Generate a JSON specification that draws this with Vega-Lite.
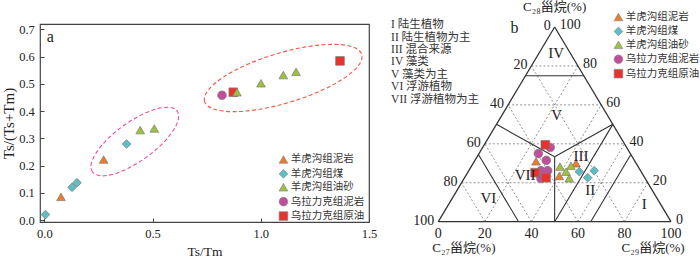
{
  "$schema": "https://vega.github.io/schema/vega-lite/v6.json",
  "padding": 0,
  "background": "#ffffff",
  "spacing": 17,
  "bounds": "flush",
  "config": {
    "view": {"stroke": null},
    "font": "Liberation Serif",
    "axis": {"labelFont": "Liberation Serif", "titleFont": "Liberation Serif", "titleFontWeight": "normal", "labelColor": "#222222", "titleColor": "#222222", "tickColor": "#444444"},
    "legend": {"labelFont": "Noto Sans CJK SC", "labelFontSize": 10.5, "labelColor": "#333333", "symbolSize": 75, "symbolStrokeColor": "#888888", "symbolStrokeWidth": 0.7, "rowPadding": 2.4, "labelOffset": 2, "padding": 0, "titlePadding": 0}
  },
  "datasets": {
    "ratio": [
      {"group": "乌拉力克组泥岩", "tstm": 0.821, "ratio": 0.458},
      {"group": "乌拉力克组原油", "tstm": 0.873, "ratio": 0.469},
      {"group": "乌拉力克组原油", "tstm": 1.366, "ratio": 0.584},
      {"group": "羊虎沟组泥岩", "tstm": 0.077, "ratio": 0.085},
      {"group": "羊虎沟组泥岩", "tstm": 0.274, "ratio": 0.222},
      {"group": "羊虎沟组煤", "tstm": 0.005, "ratio": 0.02},
      {"group": "羊虎沟组煤", "tstm": 0.128, "ratio": 0.12},
      {"group": "羊虎沟组煤", "tstm": 0.151, "ratio": 0.137},
      {"group": "羊虎沟组煤", "tstm": 0.38, "ratio": 0.279},
      {"group": "羊虎沟组油砂", "tstm": 0.443, "ratio": 0.33},
      {"group": "羊虎沟组油砂", "tstm": 0.508, "ratio": 0.336},
      {"group": "羊虎沟组油砂", "tstm": 0.89, "ratio": 0.469},
      {"group": "羊虎沟组油砂", "tstm": 1.001, "ratio": 0.502},
      {"group": "羊虎沟组油砂", "tstm": 1.104, "ratio": 0.532},
      {"group": "羊虎沟组油砂", "tstm": 1.163, "ratio": 0.544}
    ],
    "ellipses": [
      {"cluster": "low", "tstm": 0.418, "ratio": 0.288},
      {"cluster": "high", "tstm": 1.1036, "ratio": 0.5213}
    ],
    "steranes": [
      {"group": "乌拉力克组泥岩", "c27": 32.85, "c28": 38.1, "c29": 29.05, "x": 48.1},
      {"group": "乌拉力克组泥岩", "c27": 39.5, "c28": 35.0, "c29": 25.5, "x": 43.0},
      {"group": "乌拉力克组泥岩", "c27": 37.85, "c28": 31.5, "c29": 30.65, "x": 46.4},
      {"group": "乌拉力克组泥岩", "c27": 42.8, "c28": 26.2, "c29": 31.0, "x": 44.1},
      {"group": "乌拉力克组泥岩", "c27": 39.9, "c28": 26.2, "c29": 33.9, "x": 47.0},
      {"group": "乌拉力克组泥岩", "c27": 44.8, "c28": 22.2, "c29": 33.0, "x": 44.1},
      {"group": "乌拉力克组原油", "c27": 34.25, "c28": 39.5, "c29": 26.25, "x": 46.0},
      {"group": "乌拉力克组原油", "c27": 45.8, "c28": 25.2, "c29": 29.0, "x": 41.6},
      {"group": "乌拉力克组原油", "c27": 42.4, "c28": 22.6, "c29": 35.0, "x": 46.3},
      {"group": "羊虎沟组泥岩", "c27": 42.5, "c28": 31.0, "c29": 26.5, "x": 42.0},
      {"group": "羊虎沟组泥岩", "c27": 25.8, "c28": 30.0, "c29": 44.2, "x": 59.2},
      {"group": "羊虎沟组泥岩", "c27": 36.25, "c28": 23.5, "c29": 40.25, "x": 52.0},
      {"group": "羊虎沟组油砂", "c27": 33.55, "c28": 28.3, "c29": 38.15, "x": 52.3},
      {"group": "羊虎沟组油砂", "c27": 28.65, "c28": 28.7, "c29": 42.65, "x": 57.0},
      {"group": "羊虎沟组油砂", "c27": 32.25, "c28": 25.7, "c29": 42.05, "x": 54.9},
      {"group": "羊虎沟组油砂", "c27": 32.55, "c28": 22.3, "c29": 45.15, "x": 56.3},
      {"group": "羊虎沟组煤", "c27": 26.55, "c28": 25.7, "c29": 47.75, "x": 60.6},
      {"group": "羊虎沟组煤", "c27": 19.9, "c28": 26.2, "c29": 53.9, "x": 67.0},
      {"group": "羊虎沟组煤", "c27": 24.5, "c28": 22.6, "c29": 52.9, "x": 64.2}
    ],
    "grid": [
      {"x": 10, "y": 20, "x2": 90, "y2": 20},
      {"x": 20, "y": 40, "x2": 80, "y2": 40},
      {"x": 30, "y": 60, "x2": 70, "y2": 60},
      {"x": 40, "y": 80, "x2": 60, "y2": 80},
      {"x": 20, "y": 0, "x2": 60, "y2": 80},
      {"x": 40, "y": 0, "x2": 70, "y2": 60},
      {"x": 60, "y": 0, "x2": 80, "y2": 40},
      {"x": 80, "y": 0, "x2": 90, "y2": 20},
      {"x": 80, "y": 0, "x2": 40, "y2": 80},
      {"x": 60, "y": 0, "x2": 30, "y2": 60},
      {"x": 40, "y": 0, "x2": 20, "y2": 40},
      {"x": 20, "y": 0, "x2": 10, "y2": 20}
    ],
    "regionLines": [
      {"x": 37.5, "y": 75, "x2": 62.5, "y2": 75},
      {"x": 50, "y": 33.33, "x2": 25, "y2": 50},
      {"x": 50, "y": 33.33, "x2": 75, "y2": 50},
      {"x": 50, "y": 33.33, "x2": 50, "y2": 0},
      {"x": 50, "y": 0, "x2": 75, "y2": 50},
      {"x": 65.5, "y": 0, "x2": 82.75, "y2": 34.5},
      {"x": 17.25, "y": 34.5, "x2": 34.5, "y2": 0}
    ],
    "edges": [
      {"x": 0, "y": 0, "x2": 100, "y2": 0},
      {"x": 0, "y": 0, "x2": 50, "y2": 100},
      {"x": 100, "y": 0, "x2": 50, "y2": 100}
    ],
    "leftTicks": [
      {"x": 50, "y": 100, "label": "0"},
      {"x": 40, "y": 80, "label": "20"},
      {"x": 30, "y": 60, "label": "40"},
      {"x": 20, "y": 40, "label": "60"},
      {"x": 10, "y": 20, "label": "80"},
      {"x": 0, "y": 0, "label": "100"}
    ],
    "rightTicks": [
      {"x": 50, "y": 100, "label": "100"},
      {"x": 60, "y": 80, "label": "80"},
      {"x": 70, "y": 60, "label": "60"},
      {"x": 80, "y": 40, "label": "40"},
      {"x": 90, "y": 20, "label": "20"},
      {"x": 100, "y": 0, "label": "0"}
    ],
    "bottomTicks": [
      {"x": 0, "y": 0, "label": "0"},
      {"x": 20, "y": 0, "label": "20"},
      {"x": 40, "y": 0, "label": "40"},
      {"x": 60, "y": 0, "label": "60"},
      {"x": 80, "y": 0, "label": "80"},
      {"x": 100, "y": 0, "label": "100"}
    ],
    "regions": [
      {"x": 50.6, "y": 86.6, "label": "IV"},
      {"x": 50.9, "y": 54.9, "label": "V"},
      {"x": 61.3, "y": 34.0, "label": "III"},
      {"x": 65.3, "y": 16.2, "label": "II"},
      {"x": 88.5, "y": 9.3, "label": "I"},
      {"x": 21.5, "y": 12.0, "label": "VI"},
      {"x": 37.3, "y": 24.0, "label": "VII"}
    ],
    "regionKey": [
      {"x": -20.3, "y": 101.0, "label": "I 陆生植物"},
      {"x": -20.3, "y": 94.6, "label": "II 陆生植物为主"},
      {"x": -20.3, "y": 88.2, "label": "III 混合来源"},
      {"x": -20.3, "y": 81.8, "label": "IV 藻类"},
      {"x": -20.3, "y": 75.4, "label": "V 藻类为主"},
      {"x": -20.3, "y": 69.0, "label": "VI 浮游植物"},
      {"x": -20.3, "y": 62.6, "label": "VII 浮游植物为主"}
    ],
    "ternTitles": [
      {"x": 50, "y": 110.5, "label": "C₂₈甾烷(%)"},
      {"x": 11.0, "y": -13.7, "label": "C₂₇甾烷(%)"},
      {"x": 92.3, "y": -13.6, "label": "C₂₉甾烷(%)"}
    ]
  },
  "hconcat": [
    {
      "width": 329,
      "height": 198,
      "view": {"stroke": "#444444", "strokeWidth": 1.2},
      "encoding": {
        "x": {"field": "tstm", "type": "quantitative", "scale": {"domain": [-0.02, 1.5], "nice": false, "zero": false},
          "axis": {"title": "Ts/Tm", "values": [0, 0.5, 1, 1.5], "format": ".1f", "tickSize": -4, "labelPadding": 9, "labelFlush": false, "domain": false, "grid": false, "labelFontSize": 12.5, "titleFontSize": 13.5, "titlePadding": 5}},
        "y": {"field": "ratio", "type": "quantitative", "scale": {"domain": [-0.0073, 0.7195], "nice": false, "zero": false},
          "axis": {"title": "Ts/(Ts+Tm)", "values": [0, 0.1, 0.2, 0.3, 0.4, 0.5, 0.6, 0.7], "format": ".1f", "tickSize": -4, "labelPadding": 9.7, "labelFlush": false, "domain": false, "grid": false, "labelFontSize": 12.5, "titleFontSize": 15, "titlePadding": 2.5}}
      },
      "layer": [
        {
          "data": {"name": "ellipses"},
          "transform": [{"filter": "datum.cluster === 'low'"}],
          "mark": {"type": "point", "shape": "M -1 0 A 1 0.374 0 1 1 1 0 A 1 0.374 0 1 1 -1 0 Z", "size": 10858, "angle": 324.3, "filled": false, "stroke": "#ec4c9c", "strokeWidth": 1.1, "strokeDash": [4, 2.5], "opacity": 1}
        },
        {
          "data": {"name": "ellipses"},
          "transform": [{"filter": "datum.cluster === 'high'"}],
          "mark": {"type": "point", "shape": "M -1 0 A 1 0.306 0 1 1 1 0 A 1 0.306 0 1 1 -1 0 Z", "size": 26896, "angle": 343.3, "filled": false, "stroke": "#ee5a45", "strokeWidth": 1.1, "strokeDash": [4, 2.5], "opacity": 1}
        },
        {
          "data": {"name": "ratio"},
          "mark": {"type": "point", "filled": true, "size": 75, "opacity": 1, "stroke": "#7a7a7a", "strokeWidth": 0.7},
          "encoding": {
            "color": {"field": "group", "type": "nominal",
              "scale": {"domain": ["羊虎沟组泥岩", "羊虎沟组煤", "羊虎沟组油砂", "乌拉力克组泥岩", "乌拉力克组原油"], "range": ["#f07b2b", "#5bbfc5", "#9dc23d", "#c24d9b", "#e7332b"]},
              "legend": {"title": null, "orient": "none", "legendX": 238.2, "legendY": 130.2}},
            "shape": {"field": "group", "type": "nominal",
              "scale": {"domain": ["羊虎沟组泥岩", "羊虎沟组煤", "羊虎沟组油砂", "乌拉力克组泥岩", "乌拉力克组原油"], "range": ["triangle-up", "diamond", "triangle-up", "circle", "square"]},
              "legend": {"title": null, "orient": "none", "legendX": 238.2, "legendY": 130.2}}
          }
        },
        {
          "data": {"values": [{"tstm": 0.028, "ratio": 0.672, "label": "a"}]},
          "mark": {"type": "text", "font": "Liberation Serif", "fontSize": 16, "color": "#222222"},
          "encoding": {
            "text": {"field": "label"}
          }
        }
      ]
    },
    {
      "width": 305,
      "height": 198,
      "encoding": {
        "x": {"field": "x", "type": "quantitative", "scale": {"domain": [-22.48, 108.6], "nice": false, "zero": false}, "axis": null},
        "y": {"field": "y", "type": "quantitative", "scale": {"domain": [-0.15, 101.54], "nice": false, "zero": false}, "axis": null}
      },
      "layer": [
        {
          "data": {"name": "grid"},
          "mark": {"type": "rule", "color": "#777777", "strokeWidth": 0.8, "strokeDash": [2, 2]},
          "encoding": {"x2": {"field": "x2"}, "y2": {"field": "y2"}}
        },
        {
          "data": {"name": "regionLines"},
          "mark": {"type": "rule", "color": "#333333", "strokeWidth": 1.1},
          "encoding": {"x2": {"field": "x2"}, "y2": {"field": "y2"}}
        },
        {
          "data": {"name": "edges"},
          "mark": {"type": "rule", "color": "#333333", "strokeWidth": 1.3},
          "encoding": {"x2": {"field": "x2"}, "y2": {"field": "y2"}}
        },
        {
          "data": {"name": "steranes"},
          "mark": {"type": "point", "filled": true, "size": 75, "opacity": 1, "stroke": "#7a7a7a", "strokeWidth": 0.7},
          "encoding": {
            "y": {"field": "c28", "type": "quantitative", "scale": {"domain": [-0.15, 101.54], "nice": false, "zero": false}, "axis": null},
            "color": {"field": "group", "type": "nominal",
              "scale": {"domain": ["羊虎沟组泥岩", "羊虎沟组煤", "羊虎沟组油砂", "乌拉力克组泥岩", "乌拉力克组原油"], "range": ["#f07b2b", "#5bbfc5", "#9dc23d", "#c24d9b", "#e7332b"]},
              "legend": {"title": null, "orient": "none", "legendX": 227.2, "legendY": -12.2}},
            "shape": {"field": "group", "type": "nominal",
              "scale": {"domain": ["羊虎沟组泥岩", "羊虎沟组煤", "羊虎沟组油砂", "乌拉力克组泥岩", "乌拉力克组原油"], "range": ["triangle-up", "diamond", "triangle-up", "circle", "square"]},
              "legend": {"title": null, "orient": "none", "legendX": 227.2, "legendY": -12.2}}
          }
        },
        {
          "data": {"name": "leftTicks"},
          "mark": {"type": "text", "align": "right", "baseline": "middle", "dx": -4, "dy": -1, "font": "Liberation Serif", "fontSize": 14, "color": "#222222"},
          "encoding": {"text": {"field": "label"}}
        },
        {
          "data": {"name": "rightTicks"},
          "mark": {"type": "text", "align": "left", "baseline": "middle", "dx": 5, "dy": -2, "font": "Liberation Serif", "fontSize": 14, "color": "#222222"},
          "encoding": {"text": {"field": "label"}}
        },
        {
          "data": {"name": "bottomTicks"},
          "mark": {"type": "text", "align": "center", "baseline": "top", "dy": 5.5, "font": "Liberation Serif", "fontSize": 14, "color": "#222222"},
          "encoding": {"text": {"field": "label"}}
        },
        {
          "data": {"name": "regions"},
          "mark": {"type": "text", "align": "center", "baseline": "middle", "font": "Liberation Serif", "fontSize": 15, "color": "#222222"},
          "encoding": {"text": {"field": "label"}}
        },
        {
          "data": {"name": "regionKey"},
          "mark": {"type": "text", "align": "left", "baseline": "middle", "font": "Liberation Serif, Noto Sans CJK SC", "fontSize": 11.5, "color": "#333333"},
          "encoding": {"text": {"field": "label"}}
        },
        {
          "data": {"name": "ternTitles"},
          "mark": {"type": "text", "align": "center", "baseline": "middle", "font": "Liberation Serif, DejaVu Serif, Noto Sans CJK SC", "fontSize": 13, "color": "#222222"},
          "encoding": {"text": {"field": "label"}}
        },
        {
          "data": {"values": [{"x": 32.7, "y": 99.3, "label": "b"}]},
          "mark": {"type": "text", "align": "center", "baseline": "middle", "font": "Liberation Serif", "fontSize": 16, "color": "#222222"},
          "encoding": {"text": {"field": "label"}}
        }
      ]
    }
  ],
  "resolve": {"scale": {"color": "independent", "shape": "independent", "x": "independent", "y": "independent"}, "legend": {"color": "independent", "shape": "independent"}}
}
